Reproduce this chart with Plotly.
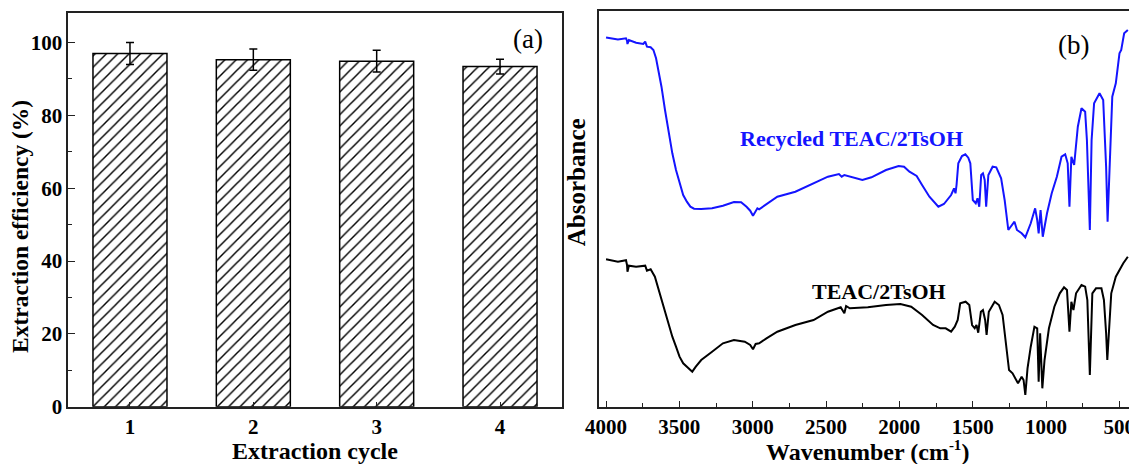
import plotly.graph_objects as go

# ---------------- Panel (a) data ----------------
cycles = [1, 2, 3, 4]
cycle_labels = ["1", "2", "3", "4"]
efficiency = [97.0, 95.3, 94.9, 93.4]
efficiency_err = [3.0, 2.9, 3.0, 2.0]

# ---------------- Panel (b) data (arbitrary units) ----------------
recycled_wn = [4000, 3919, 3864, 3857, 3854, 3844, 3795, 3746, 3733, 3721, 3696, 3677,
               3659, 3647, 3622, 3598, 3573, 3548, 3523, 3499, 3474, 3449, 3425, 3400,
               3351, 3277, 3203, 3128, 3079, 3042, 3017, 2998, 2980, 2968, 2956, 2931,
               2882, 2832, 2709, 2585, 2487, 2412, 2393, 2375, 2338, 2252, 2190, 2091,
               2005, 1968, 1931, 1882, 1845, 1795, 1734, 1696, 1647, 1627, 1617, 1610,
               1598, 1573, 1550, 1530, 1516, 1499, 1479, 1467, 1455, 1442, 1430, 1418,
               1408, 1393, 1364, 1339, 1306, 1282, 1257, 1233, 1215, 1198, 1166, 1141,
               1104, 1074, 1060, 1050, 1037, 1022, 993, 961, 926, 894, 869, 852, 840,
               827, 808, 783, 758, 733, 721, 701, 689, 672, 635, 610, 590, 580, 561,
               548, 524, 499, 487, 467, 442]
recycled_abs = [369.3, 367.3, 368.4, 366.0, 362.7, 366.7, 364.0, 362.7, 365.0, 360.0, 359.4, 356.7,
                348.4, 340.0, 320.0, 296.7, 273.4, 253.4, 236.7, 223.4, 211.7, 205.0, 200.0, 198.0,
                197.7, 198.4, 201.0, 204.7, 204.4, 200.0, 196.0, 191.0, 196.0, 198.4, 197.4, 200.0,
                205.0, 210.0, 215.0, 223.4, 230.0, 232.7, 230.0, 231.7, 230.0, 226.7, 229.4, 236.7,
                240.7, 240.0, 235.0, 230.7, 221.7, 210.0, 200.0, 202.7, 211.7, 218.4, 213.4, 221.7,
                243.4, 250.7, 252.4, 249.0, 243.4, 206.7, 203.4, 208.4, 200.0, 231.7, 233.4, 226.7,
                200.0, 231.7, 240.0, 239.4, 228.4, 206.7, 176.7, 181.7, 185.0, 176.7, 173.4, 169.4,
                183.4, 198.4, 186.7, 173.4, 196.7, 170.0, 193.4, 213.4, 230.0, 250.0, 252.4, 243.4, 200.0,
                250.0, 241.7, 280.0, 298.4, 295.0, 266.7, 176.7, 266.7, 303.4, 313.4, 306.7, 240.0, 185.0, 263.4,
                310.0, 323.4, 353.4, 356.7, 373.4, 376.7]

fresh_wn = [4000, 3919, 3864, 3857, 3854, 3844, 3795, 3733, 3721, 3696, 3667, 3647,
            3622, 3598, 3573, 3548, 3523, 3499, 3474, 3437, 3412, 3388, 3351, 3277,
            3203, 3128, 3054, 3017, 2998, 2980, 2956, 2906, 2832, 2709, 2585, 2487,
            2400, 2375, 2363, 2338, 2215, 2091, 1993, 1919, 1845, 1770, 1721, 1684,
            1647, 1622, 1602, 1585, 1548, 1523, 1504, 1486, 1474, 1462, 1444, 1430,
            1415, 1405, 1390, 1350, 1321, 1296, 1272, 1252, 1228, 1208, 1191, 1166,
            1153, 1141, 1126, 1104, 1079, 1060, 1050, 1040, 1025, 1010, 980, 943, 906,
            877, 857, 840, 827, 813, 795, 758, 733, 718, 701, 684, 659, 622, 605, 590,
            582, 570, 555, 524, 499, 473, 442]
fresh_abs = [147.4, 145.0, 146.5, 141.7, 135.0, 141.0, 140.0, 141.0, 136.0, 137.4, 130.0, 120.0,
             106.7, 93.4, 81.7, 70.0, 60.0, 50.0, 43.4, 38.4, 35.0, 40.0, 46.7, 55.0,
             63.4, 66.7, 65.0, 61.7, 57.4, 62.7, 63.4, 68.4, 75.0, 81.7, 86.7, 95.0,
             99.4, 93.4, 100.7, 98.4, 99.4, 101.7, 102.7, 100.0, 91.7, 81.7, 78.4, 78.4,
             75.0, 80.0, 86.7, 103.4, 105.0, 101.7, 81.7, 78.4, 81.7, 74.0, 95.0, 96.7,
             86.7, 71.7, 95.0, 105.0, 101.7, 91.7, 60.0, 36.7, 33.4, 28.4, 23.4, 30.0,
             26.7, 11.7, 38.4, 60.0, 80.0, 78.4, 25.0, 73.4, 18.4, 46.7, 78.4, 100.0, 113.4,
             119.4, 116.7, 75.0, 105.0, 96.7, 113.4, 121.7, 120.0, 106.7, 31.7, 113.4, 118.4, 118.4, 106.7, 73.4,
             46.7, 76.7, 113.4, 130.0, 136.7, 143.4, 150.0]

W, H = 1129, 464
FONT = "Liberation Serif"
AX = "#222222"
TICK = 21

fig = go.Figure()

fig.add_trace(go.Bar(
    x=cycles, y=efficiency, width=0.6,
    marker=dict(color="white", line=dict(color="black", width=1.5),
                pattern=dict(shape="/", fgcolor="black", fgopacity=1, bgcolor="white",
                             size=8, solidity=0.18)),
    error_y=dict(type="data", array=efficiency_err, color="black", thickness=1.5, width=4),
    xaxis="x", yaxis="y", showlegend=False,
))

fig.add_trace(go.Scatter(x=recycled_wn, y=recycled_abs, mode="lines",
                         line=dict(color="#1414ff", width=2), xaxis="x2", yaxis="y2", showlegend=False))
fig.add_trace(go.Scatter(x=fresh_wn, y=fresh_abs, mode="lines",
                         line=dict(color="black", width=2), xaxis="x2", yaxis="y2", showlegend=False))

ybot = 1 - 406.7 / H
fig.update_layout(
    width=W, height=H, margin=dict(l=0, r=0, t=0, b=0, pad=0, autoexpand=False),
    paper_bgcolor="white", plot_bgcolor="white",
    font=dict(family=FONT, color="black"),
    xaxis=dict(domain=[68.3 / W, 561.7 / W], range=[0.5, 4.5], tickvals=cycles, ticktext=cycle_labels,
               showline=True, linecolor=AX, linewidth=1.5, mirror=True, ticks="inside", ticklen=5,
               tickcolor=AX, showgrid=False, zeroline=False, automargin=False,
               tickfont=dict(family=FONT, size=TICK, weight="bold")),
    yaxis=dict(domain=[ybot, 1 - 12.7 / H], range=[0, 108.2], tickvals=[0, 20, 40, 60, 80, 100],
               showline=True, linecolor=AX, linewidth=1.5, mirror=True, ticks="inside", ticklen=7,
               tickcolor=AX, showgrid=False, zeroline=False, automargin=False,
               minor=dict(dtick=10, ticks="inside", ticklen=4, tickcolor=AX),
               tickfont=dict(family=FONT, size=TICK, weight="bold")),
    xaxis2=dict(domain=[599.3 / W, 1.0], range=[4046, 434], anchor="y2",
                tickvals=[4000, 3500, 3000, 2500, 2000, 1500, 1000, 500],
                showline=True, linecolor=AX, linewidth=1.5, mirror=True, ticks="inside", ticklen=6,
                tickcolor=AX, showgrid=False, zeroline=False, automargin=False,
                ticklabeloverflow="allow",
                minor=dict(dtick=250, ticks="inside", ticklen=4, tickcolor=AX),
                tickfont=dict(family=FONT, size=TICK, weight="bold")),
    yaxis2=dict(domain=[ybot, 1 - 10.7 / H], range=[0, 396], anchor="x2",
                showline=True, linecolor=AX, linewidth=1.5, mirror=False, ticks="",
                showticklabels=False, showgrid=False, zeroline=False, automargin=False),
)

def ann(text, px, py, size, bold=True, color="black", angle=0):
    fig.add_annotation(text=text, x=px / W, y=1 - py / H, xref="paper", yref="paper",
                       showarrow=False, xanchor="center", yanchor="middle", textangle=angle,
                       font=dict(family=FONT, size=size, color=color,
                                 weight="bold" if bold else "normal"))

ann("(a)", 527.5, 39, 27, bold=False)
ann("(b)", 1073, 45, 27, bold=False)
ann("Recycled TEAC/2TsOH", 851.7, 138.3, 22, color="#1414ff")
ann("TEAC/2TsOH", 879, 291.7, 22)
ann("Absorbance", 576.7, 182.5, 25, angle=-90)
ann("Extraction efficiency (%)", 20, 227, 23.5, angle=-90)
ann("Extraction cycle", 315.3, 451, 24)
ann("Wavenumber (cm<sup><span style='font-size:15px'>-1</span></sup>)", 867, 450.5, 24)

fig.write_html("out.html", config={"displayModeBar": False},
               post_script="document.body.style.margin='0';document.body.style.padding='0';")
